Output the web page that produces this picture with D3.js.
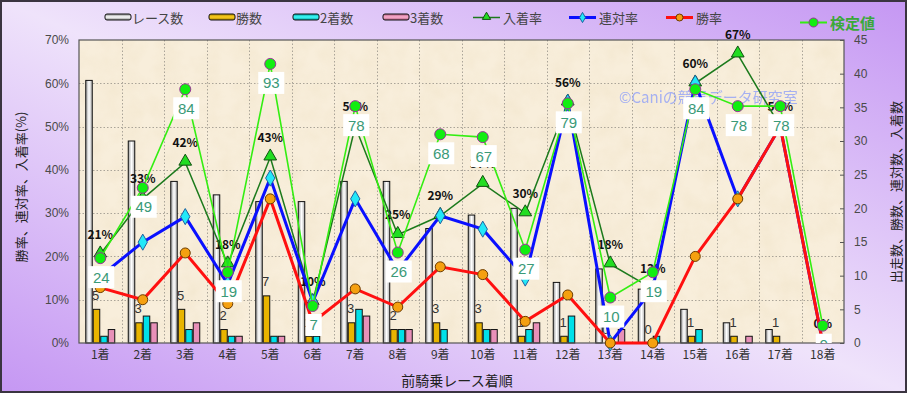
<!DOCTYPE html>
<html><head><meta charset="utf-8">
<script src="https://cdn.jsdelivr.net/npm/d3@7"></script>
<style>html,body{margin:0;padding:0;background:#fff;}svg{display:block;}</style>
</head><body>
<svg id="chart" width="907" height="393"></svg>
<script>
// ---- data ----
const categories = ["1着","2着","3着","4着","5着","6着","7着","8着","9着","10着","11着","12着","13着","14着","15着","16着","17着","18着"];
const raceCounts = [39,30,24,22,21,21,24,24,17,19,20,9,11,8,5,3,2,0];
const wins       = [5,3,5,2,7,1,3,2,3,3,1,1,0,0,1,1,1,0];
const seconds    = [1,4,2,1,1,1,5,2,2,2,2,4,0,1,2,0,0,0];
const thirds     = [2,3,3,1,1,0,4,2,0,2,3,0,2,0,0,1,0,0];
const winRate    = [12.8,10.0,20.8,9.1,33.3,4.8,12.5,8.3,17.6,15.8,5.0,11.1,0,0,20.0,33.3,50.0,0];
const rentaiRate = [15.4,23.3,29.2,13.6,38.1,9.5,33.3,16.7,29.4,26.3,15.0,55.6,0,12.5,60.0,33.3,50.0,0];
const placeRate  = [20.5,33.3,41.7,18.2,42.9,9.5,50.0,25.0,29.4,36.8,30.0,55.6,18.2,12.5,60.0,66.7,50.0,0];
const testValues = [24,49,84,19,93,7,78,26,68,67,27,79,10,19,84,78,78,0];
const leftTicks  = [0,10,20,30,40,50,60,70];
const rightTicks = [0,5,10,15,20,25,30,35,40,45];
const barSeries  = ["レース数","勝数","2着数","3着数"];

const W = 907, H = 393;
const P = {l:79, r:844, t:40, b:343};
const svg = d3.select("#chart");
const defs = svg.append("defs");
const jp = "'Noto Sans CJK JP','Noto Sans',sans-serif";
const num = "'Liberation Sans',Arial,sans-serif";

// background gradient
const bg = defs.append("linearGradient").attr("id","bg").attr("x1",0).attr("y1",1).attr("x2",1).attr("y2",0);
bg.append("stop").attr("offset",0).attr("stop-color","#c597f3");
bg.append("stop").attr("offset",0.5).attr("stop-color","#efe3fb");
bg.append("stop").attr("offset",1).attr("stop-color","#c597f3");
svg.append("rect").attr("x",0).attr("y",0).attr("width",W).attr("height",H).attr("fill","url(#bg)");
svg.append("rect").attr("x",1).attr("y",1).attr("width",W-2).attr("height",H-2).attr("fill","none").attr("stroke","#3a3440").attr("stroke-width",2);

defs.append("clipPath").attr("id","plotClip").append("rect").attr("x",P.l).attr("y",P.t).attr("width",P.r-P.l).attr("height",P.b-P.t);

// parchment
const tex = defs.append("filter").attr("id","tex").attr("x",0).attr("y",0).attr("width","100%").attr("height","100%");
tex.append("feTurbulence").attr("type","fractalNoise").attr("baseFrequency",0.05).attr("numOctaves",3).attr("seed",4).attr("result","n");
tex.append("feColorMatrix").attr("in","n").attr("type","matrix")
  .attr("values","0 0 0 0 0.80  0 0 0 0 0.68  0 0 0 0 0.45  0 0 0 -1.1 0.75");
svg.append("rect").attr("x",P.l).attr("y",P.t).attr("width",P.r-P.l).attr("height",P.b-P.t).attr("fill","#f8eedb");
svg.append("rect").attr("x",P.l).attr("y",P.t).attr("width",P.r-P.l).attr("height",P.b-P.t).attr("filter","url(#tex)").attr("opacity",0.35);

// scales
const x = d3.scaleBand().domain(categories).range([P.l,P.r]).padding(0);
const xs = d3.scaleBand().domain(barSeries).range([0,30]).padding(0);
const yL = d3.scaleLinear().domain([0,70]).range([P.b,P.t]);
const yR = d3.scaleLinear().domain([0,45]).range([P.b,P.t]);
const yK = d3.scaleLinear().domain([-6.15,101.5]).range([P.b,P.t]);
const cx = c => x(c) + x.bandwidth()/2;
const bx = (c,s) => x(c) + (x.bandwidth()-30)/2 + xs(s);

// gridlines
const grid = svg.append("g").attr("stroke","#aaa498").attr("stroke-width",1).attr("stroke-dasharray","1.5,2");
grid.selectAll("line.h").data(leftTicks.slice(1,-1)).join("line")
  .attr("x1",P.l).attr("x2",P.r).attr("y1",d=>Math.round(yL(d))+0.5).attr("y2",d=>Math.round(yL(d))+0.5);
grid.selectAll("line.v").data(categories.slice(1)).join("line")
  .attr("x1",d=>Math.round(x(d))+0.5).attr("x2",d=>Math.round(x(d))+0.5).attr("y1",P.t).attr("y2",P.b);

// bar gradients
const rg = defs.append("linearGradient").attr("id","raceG").attr("x1",0).attr("x2",1).attr("y1",0).attr("y2",0);
rg.append("stop").attr("offset",0).attr("stop-color","#9a9a9a");
rg.append("stop").attr("offset",0.5).attr("stop-color","#ffffff");
rg.append("stop").attr("offset",1).attr("stop-color","#b0b0b0");
const mkVG = (id,c1,c2) => { const g = defs.append("linearGradient").attr("id",id).attr("x1",0).attr("x2",0).attr("y1",0).attr("y2",1);
  g.append("stop").attr("offset",0).attr("stop-color",c1); g.append("stop").attr("offset",0.5).attr("stop-color",c2); g.append("stop").attr("offset",1).attr("stop-color",c1); };
mkVG("lgRace","#8a8a8a","#ffffff");
mkVG("lgWin","#b08800","#ffd020");
mkVG("lgSec","#00a0a0","#40ffff");
mkVG("lgThi","#b06080","#ffb0d0");

const barDefs = [
  {name:"レース数", vals:raceCounts, fill:"url(#raceG)"},
  {name:"勝数", vals:wins, fill:"#e8b400"},
  {name:"2着数", vals:seconds, fill:"#00e0e8"},
  {name:"3着数", vals:thirds, fill:"#e890b8"}
];
const bars = svg.append("g");
barDefs.forEach(s => {
  bars.selectAll(null).data(categories.map((c,i)=>({c,v:s.vals[i]})).filter(d=>d.v>0)).join("rect")
    .attr("x",d=>bx(d.c,s.name)+0.5).attr("width",xs.bandwidth()-1)
    .attr("y",d=>yR(d.v)).attr("height",d=>P.b-yR(d.v))
    .attr("fill",s.fill).attr("stroke","#111").attr("stroke-width",1);
});

// plot border
svg.append("rect").attr("x",P.l).attr("y",P.t).attr("width",P.r-P.l).attr("height",P.b-P.t)
  .attr("fill","none").attr("stroke","#555").attr("stroke-width",1.2);

// axes
const axL = svg.append("g").attr("transform",`translate(${P.l},0)`)
  .call(d3.axisLeft(yL).tickValues(leftTicks).tickFormat(d=>d+"%").tickSize(0).tickPadding(10));
axL.select(".domain").remove();
axL.selectAll("text").attr("font-family",num).attr("font-size",12).attr("fill","#4a4a4a");
const axR = svg.append("g").attr("transform",`translate(${P.r},0)`)
  .call(d3.axisRight(yR).tickValues(rightTicks).tickSize(-4).tickPadding(10));
axR.select(".domain").remove();
axR.selectAll("line").attr("stroke","#555");
axR.selectAll("text").attr("font-family",num).attr("font-size",12).attr("fill","#4a4a4a");
const axB = svg.append("g").attr("transform",`translate(0,${P.b})`)
  .call(d3.axisBottom(x).tickSize(0).tickPadding(7));
axB.select(".domain").remove();
axB.selectAll("text").attr("font-family",jp).attr("font-size",12).attr("fill","#333");

// axis titles
svg.append("text").attr("transform","translate(20,187) rotate(-90)").attr("text-anchor","middle").attr("dominant-baseline","central")
  .attr("font-family",jp).attr("font-size",13).attr("fill","#222").text("勝率、連対率、入着率(%)");
svg.append("text").attr("transform","translate(895,192) rotate(-90)").attr("text-anchor","middle").attr("dominant-baseline","central")
  .attr("font-family",jp).attr("font-size",13).attr("fill","#222").text("出走数、勝数、連対数、入着数");
svg.append("text").attr("x",457).attr("y",380).attr("text-anchor","middle").attr("dominant-baseline","central")
  .attr("font-family",jp).attr("font-size",14).attr("fill","#222").text("前騎乗レース着順");

// watermark
svg.append("text").attr("x",619).attr("y",96).attr("dominant-baseline","central")
  .attr("font-family",jp).attr("font-size",15).attr("fill","#98a6f6").attr("opacity",0.85).text("©Caniの競馬データ研究室");

// win count labels
svg.append("g").selectAll("text").data(categories.map((c,i)=>({c,v:wins[i]})).filter((d,i)=>raceCounts[i]>0)).join("text")
  .attr("x",d=>bx(d.c,"勝数")+xs.bandwidth()/2-1).attr("y",d=>yR(d.v)-14)
  .attr("text-anchor","middle").attr("dominant-baseline","central")
  .attr("font-family",num).attr("font-size",13).attr("fill","#333").text(d=>d.v);

// place rate labels
svg.append("g").selectAll("text").data(categories.map((c,i)=>({c,v:placeRate[i]}))).join("text")
  .attr("x",d=>cx(d.c)).attr("y",d=>yL(d.v)-21)
  .attr("text-anchor","middle").attr("dominant-baseline","central")
  .attr("font-family",jp).attr("font-size",12).attr("font-weight","bold").attr("fill","#111").text(d=>Math.round(d.v)+"%");

// lines
const lineOf = (vals, y) => d3.line().x((d,i)=>cx(categories[i])).y(d=>y(d))(vals);
const tri = d3.symbol().type(d3.symbolTriangle).size(70);
const dia = d3.symbol().type(d3.symbolDiamond).size(75);
const pts = vals => vals.map((v,i)=>({c:categories[i],v})).filter((d,i)=>raceCounts[i]>0);

// 入着率
svg.append("path").attr("d",lineOf(placeRate,yL)).attr("fill","none").attr("stroke","#1c7a1c").attr("stroke-width",1.5);
svg.append("g").selectAll("path").data(pts(placeRate)).join("path")
  .attr("d",tri).attr("transform",d=>`translate(${cx(d.c)},${yL(d.v)-1})`)
  .attr("fill","#22dd22").attr("stroke","#105010").attr("stroke-width",1);
// 連対率
svg.append("path").attr("d",lineOf(rentaiRate,yL)).attr("fill","none").attr("stroke","#0a10ff").attr("stroke-width",3);
svg.append("g").selectAll("path").data(pts(rentaiRate)).join("path")
  .attr("d",dia).attr("transform",d=>`translate(${cx(d.c)},${yL(d.v)})`)
  .attr("fill","#22e8f8").attr("stroke","#2060a0").attr("stroke-width",1);
// 勝率
svg.append("path").attr("d",lineOf(winRate,yL)).attr("fill","none").attr("stroke","#ff1010").attr("stroke-width",3);
svg.append("g").selectAll("circle").data(pts(winRate)).join("circle")
  .attr("cx",d=>cx(d.c)).attr("cy",d=>yL(d.v)).attr("r",5)
  .attr("fill","#f5a010").attr("stroke","#6a3a00").attr("stroke-width",1);
// 検定値
svg.append("path").attr("d",lineOf(testValues,yK)).attr("fill","none").attr("stroke","#33ee11").attr("stroke-width",1.6);
svg.append("g").selectAll("circle").data(testValues).join("circle")
  .attr("cx",(d,i)=>cx(categories[i])).attr("cy",d=>yK(d)).attr("r",5.5)
  .attr("fill","#11ee11").attr("stroke","#993399").attr("stroke-width",1);
// 検定値 labels (clipped to plot area)
const kl = svg.append("g").attr("clip-path","url(#plotClip)").selectAll("g").data(testValues).join("g")
  .attr("transform",(d,i)=>`translate(${cx(categories[i])+1},${yK(d)+19})`);
kl.append("rect").attr("x",d=>String(d).length>1?-13:-8).attr("y",-11)
  .attr("width",d=>String(d).length>1?26:16).attr("height",22).attr("fill","#fff");
kl.append("text").attr("text-anchor","middle").attr("dominant-baseline","central")
  .attr("font-family",num).attr("font-size",15).attr("fill","#3a9a78").text(d=>d);

// legend
const lg = svg.append("g").attr("font-family",jp).attr("font-size",13).attr("fill","#444");
const barLeg = [{x:105,t:"レース数",f:"url(#lgRace)"},{x:209,t:"勝数",f:"url(#lgWin)"},{x:293,t:"2着数",f:"url(#lgSec)"},{x:383,t:"3着数",f:"url(#lgThi)"}];
barLeg.forEach(b=>{
  lg.append("rect").attr("x",b.x).attr("y",14).attr("width",26).attr("height",6).attr("rx",2)
    .attr("fill",b.f).attr("stroke","#111").attr("stroke-width",1);
  lg.append("text").attr("x",b.x+27).attr("y",17.5).attr("dominant-baseline","central").text(b.t);
});
const lineLeg = [
  {x:473,t:"入着率",c:"#1c7a1c",w:1.5,m:"tri"},
  {x:569,t:"連対率",c:"#0a10ff",w:3,m:"dia"},
  {x:666,t:"勝率",c:"#ff1010",w:3,m:"cir"}
];
lineLeg.forEach(l=>{
  lg.append("line").attr("x1",l.x).attr("x2",l.x+27).attr("y1",17.5).attr("y2",17.5).attr("stroke",l.c).attr("stroke-width",l.w);
  if(l.m==="tri") lg.append("path").attr("d",d3.symbol().type(d3.symbolTriangle).size(30)).attr("transform",`translate(${l.x+13.5},17)`).attr("fill","#22dd22").attr("stroke","#105010");
  if(l.m==="dia") lg.append("path").attr("d",d3.symbol().type(d3.symbolDiamond).size(30)).attr("transform",`translate(${l.x+13.5},17.5)`).attr("fill","#22e8f8").attr("stroke","#2060a0");
  if(l.m==="cir") lg.append("circle").attr("cx",l.x+13.5).attr("cy",17.5).attr("r",3.5).attr("fill","#f5a010").attr("stroke","#6a3a00");
  lg.append("text").attr("x",l.x+30).attr("y",17.5).attr("dominant-baseline","central").text(l.t);
});
lg.append("line").attr("x1",800).attr("x2",827).attr("y1",22.5).attr("y2",22.5).attr("stroke","#33ee11").attr("stroke-width",2);
lg.append("circle").attr("cx",813.5).attr("cy",22.5).attr("r",4.5).attr("fill","#11ee11").attr("stroke","#993399");
lg.append("text").attr("x",830).attr("y",22.5).attr("dominant-baseline","central").attr("font-size",15).attr("font-weight","bold").attr("fill","#3aa83a").text("検定値");
</script>
</body></html>
